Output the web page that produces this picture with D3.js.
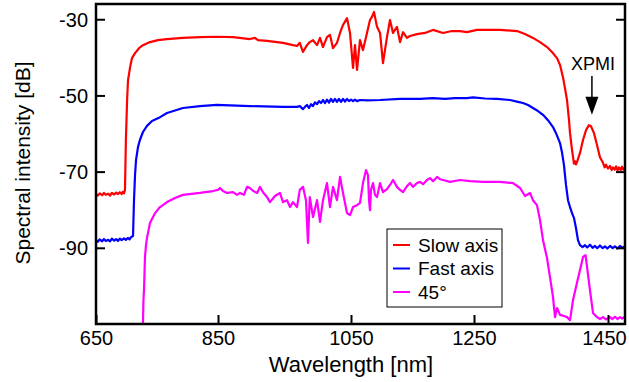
<!DOCTYPE html>
<html>
<head>
<meta charset="utf-8">
<script src="https://cdn.jsdelivr.net/npm/d3@7/dist/d3.min.js"></script>
<style>
  body { margin: 0; background: #fff; }
  svg { font-family: "Liberation Sans", Arial, sans-serif; }
</style>
</head>
<body>
<svg class="main-graphic" width="629" height="382"></svg>
<script>
// ticks
var xTicks = [650, 850, 1050, 1250, 1450];
var yTicks = [-30, -50, -70, -90];

// slow axis (red): [wavelength nm, dB]
var slowAxis = [
  [650,-75.9],[653,-76.3],[656,-75.7],[660,-76.2],[663,-75.6],[666,-76.1],[670,-75.8],[673,-76.3],
  [676,-75.6],[680,-76.0],[683,-75.5],[686,-75.9],[689,-75.4],[692,-75.9],[694,-75.3],[696,-75.7],
  [697.5,-74.8],[699,-61.7],[701,-51.2],[702.5,-46.0],[706,-42.5],[709,-40.2],[714,-38.9],[720.5,-37.6],
  [727,-36.8],[738.5,-36.0],[751.6,-35.5],[766,-35.2],[792.6,-34.9],[820.5,-34.7],[848,-34.6],[872.6,-34.7],
  [898,-35.2],[905.6,-34.9],[910,-35.5],[923.7,-35.7],[947.7,-36.2],[962.8,-36.8],[968.8,-37.0],[973,-36.2],
  [977.8,-38.6],[983.8,-36.8],[988,-36.0],[992.9,-35.5],[998.9,-36.8],[1003.4,-34.9],[1007.9,-37.3],[1013.9,-34.7],
  [1018.4,-34.1],[1022.9,-37.6],[1028.9,-36.2],[1033.5,-33.6],[1038,-31.5],[1044,-29.7],[1048.5,-33.6],[1053.3,-42.8],
  [1056.5,-36.8],[1059.8,-43.3],[1064.6,-35.5],[1069.5,-38.1],[1076,-33.6],[1080.9,-30.2],[1084,-29.4],[1087.4,-28.1],
  [1092.3,-32.0],[1097.2,-33.6],[1102,-41.5],[1108.5,-34.7],[1113.4,-30.2],[1118.3,-33.6],[1124.8,-32.0],[1129.7,-36.0],
  [1134.6,-33.4],[1141,-34.9],[1146,-34.4],[1157.3,-33.9],[1170.3,-33.6],[1183.3,-32.8],[1199.6,-33.6],[1214,-33.1],
  [1227,-33.1],[1238.6,-33.4],[1254.5,-32.8],[1288.8,-32.8],[1314.2,-33.1],[1326,-33.9],[1338,-34.9],[1348.5,-36.0],
  [1359,-37.3],[1366.4,-38.6],[1373.9,-40.2],[1378.4,-42.0],[1382.8,-45.2],[1385.8,-48.1],[1388.8,-51.2],[1391.8,-56.5],
  [1393.3,-59.9],[1396.3,-64.3],[1397.8,-66.2],[1399.2,-67.9],[1400.7,-67.3],[1402.2,-68.1],[1403.7,-67.5],[1408.2,-65.1],
  [1412.7,-61.7],[1417.2,-59.1],[1421.6,-57.8],[1424.6,-58.1],[1429.1,-59.9],[1433.6,-63.0],[1438,-66.2],[1442.5,-67.7],
  [1445,-68.9],[1447,-68.2],[1450,-69.2],[1453,-68.5],[1455.5,-69.6],[1457.5,-68.9],[1460,-69.5],[1462,-68.6],
  [1464.4,-69.7],[1466.4,-68.9],[1469,-69.6],[1470.9,-68.7],[1473,-69.5],[1475.4,-68.9]
];

// fast axis (blue)
var fastAxis = [
  [650,-88.0],[653,-88.4],[656,-87.8],[660,-88.3],[663,-87.7],[666,-88.2],[670,-87.9],[673,-88.3],
  [676,-87.6],[680,-88.1],[683,-87.7],[686,-88.2],[689,-87.6],[692,-88.0],[696,-87.5],[699,-87.9],
  [702.5,-87.4],[705,-87.8],[707.4,-87.2],[710.7,-86.9],[712.3,-77.5],[714,-70.9],[715.6,-67.0],[718.9,-63.5],[722,-61.7],
  [727,-59.6],[733.6,-58.0],[741.8,-56.7],[755,-55.7],[766.4,-54.6],[792.6,-53.3],[820.5,-52.8],[848,-52.5],
  [898,-52.8],[947.7,-53.0],[968.8,-53.0],[973,-52.8],[977.8,-53.6],[980.8,-53.0],[983.8,-52.5],[986.8,-53.3],
  [989.9,-52.3],[992.9,-52.8],[995.8,-51.8],[998.9,-52.3],[1001.9,-51.5],[1004.9,-52.0],[1007.9,-51.2],[1010.9,-52.0],
  [1013.9,-51.1],[1016.9,-51.9],[1019.9,-50.9],[1022.9,-51.7],[1025.9,-50.9],[1028.9,-51.7],[1031.9,-50.9],[1035,-51.7],
  [1038,-50.9],[1041,-51.6],[1044,-50.9],[1047,-51.5],[1050,-51.1],[1053.3,-51.5],[1056.5,-51.1],[1059.8,-51.5],
  [1064.6,-51.2],[1076,-51.3],[1097.2,-51.2],[1129.7,-50.9],[1162.3,-50.9],[1183.3,-50.7],[1202.8,-50.9],[1219,-50.7],
  [1238.6,-50.7],[1248.4,-50.5],[1266.4,-50.8],[1284.3,-50.9],[1303.7,-51.2],[1315.7,-51.7],[1323.1,-52.0],[1330.6,-52.5],
  [1338,-53.3],[1345.5,-54.1],[1353,-55.1],[1360.4,-56.5],[1367.9,-58.3],[1372.4,-59.9],[1375.4,-61.2],[1378.4,-62.5],
  [1381.3,-64.9],[1384.3,-68.3],[1387.3,-73.5],[1390.3,-77.5],[1393.3,-79.3],[1396.3,-80.9],[1399.3,-82.2],[1402.2,-84.8],
  [1405.2,-88.0],[1408.2,-89.3],[1412,-89.8],[1415.7,-89.3],[1419,-89.9],[1423.1,-89.2],[1427,-90.0],[1430.6,-89.5],
  [1434,-90.1],[1438,-89.4],[1442,-90.1],[1445.5,-89.6],[1449,-90.2],[1453,-89.5],[1457,-90.1],[1460.4,-89.6],
  [1464,-90.2],[1467.9,-89.5],[1471,-90.0],[1475.4,-89.6]
];

// 45 degrees (magenta)
var deg45 = [
  [727,-110.0],[727.8,-103.7],[728.7,-101.1],[730.3,-92.4],[732,-89.3],[733.6,-87.4],[738.5,-83.5],[746.7,-80.9],
  [755,-79.3],[766.4,-78.0],[779.5,-76.9],[792.6,-76.1],[820.5,-75.6],[841.8,-75.1],[850,-74.8],[853,-74.3],
  [857.5,-75.1],[863.5,-75.6],[872.6,-75.4],[878.6,-76.1],[883,-75.6],[889,-76.1],[893.7,-74.0],[898,-74.3],
  [903,-75.1],[909,-75.6],[913,-74.0],[917.7,-75.4],[923.7,-76.7],[928.2,-78.0],[935.7,-76.4],[943.2,-75.6],
  [947.7,-78.0],[953.8,-77.5],[958.3,-79.3],[962.8,-78.0],[968.8,-79.3],[973,-74.8],[977.8,-74.0],[982.3,-77.5],
  [985.3,-88.7],[988,-76.7],[992.9,-81.9],[998.9,-77.5],[1003.4,-83.2],[1007.9,-77.5],[1013.9,-73.0],[1018.4,-79.3],
  [1022.9,-74.0],[1028.9,-77.5],[1033.5,-71.4],[1038,-75.6],[1044,-80.9],[1048.5,-81.4],[1053.3,-79.3],[1059.8,-78.8],
  [1064.6,-78.2],[1069.5,-73.0],[1074.4,-69.6],[1077.6,-70.9],[1079.3,-77.5],[1080.9,-80.1],[1082.5,-74.8],[1085.8,-73.0],
  [1089,-76.1],[1092.3,-76.7],[1097.2,-73.0],[1102,-75.4],[1108.5,-74.6],[1113.4,-73.5],[1118.3,-72.2],[1124.8,-74.0],
  [1129.7,-74.8],[1134.6,-75.4],[1141,-73.8],[1146,-73.0],[1150.8,-74.0],[1157.3,-73.0],[1162.3,-72.7],[1167.1,-73.3],
  [1173.6,-72.2],[1178.5,-71.7],[1183.3,-72.5],[1189.9,-71.4],[1194.7,-72.0],[1199.6,-72.2],[1211,-72.7],[1227.2,-72.2],
  [1243.5,-72.5],[1263.4,-72.7],[1288.8,-72.7],[1308.2,-73.0],[1318.7,-74.3],[1326.1,-76.4],[1333.6,-75.6],[1338,-77.5],
  [1344,-78.8],[1348.5,-82.7],[1353,-88.0],[1359,-92.7],[1363.4,-97.7],[1367.9,-102.9],[1370.9,-108.2],[1373.9,-105.8],
  [1378.4,-107.6],[1384.3,-107.9],[1388.8,-108.2],[1393.3,-109.0],[1397.8,-103.7],[1403.7,-99.2],[1408.2,-95.8],[1412.7,-92.4],
  [1416.5,-91.9],[1418.7,-95.0],[1423.1,-101.1],[1427.6,-107.1],[1433.6,-108.2],[1438,-108.7],[1442.5,-108.2],[1447,-108.8],
  [1453,-108.2],[1456,-108.7],[1460.4,-108.1],[1464,-108.7],[1467.9,-108.2],[1471,-108.6],[1475.4,-108.1]
];

var seriesNames = ["Slow axis", "Fast axis", "45°"];
var seriesColors = ["#ff0000", "#0000ff", "#ff00ff"];
var seriesData = [slowAxis, fastAxis, deg45];

// XPMI annotation: wavelength, text dB, arrow start dB, arrow tip dB
var xpmi = {label: "XPMI", nm: 1426, textDb: -43.3, fromDb: -44.9, tipDb: -55.1};

(function() {
  var svg = d3.select(".main-graphic");

  var pLeft = 96, pRight = 625, pTop = 4, pBottom = 324;

  // tick spacing in the original is slightly uneven, so piecewise scale
  var x = d3.scaleLinear()
      .domain(xTicks)
      .range([96, 218, 351, 474, 608]);
  var y = d3.scaleLinear()
      .domain([-110, -26])
      .range([pBottom, pTop]);

  svg.append("defs").append("clipPath")
      .attr("id", "plot-clip")
    .append("rect")
      .attr("x", pLeft)
      .attr("y", pTop)
      .attr("width", pRight - pLeft)
      .attr("height", pBottom - pTop);

  var line = d3.line()
      .x(function(d) { return x(d[0]); })
      .y(function(d) { return y(d[1]); });

  var plot = svg.append("g").attr("clip-path", "url(#plot-clip)");

  plot.selectAll(".series")
      .data(seriesData)
    .enter().append("path")
      .attr("class", "series")
      .attr("d", line)
      .attr("fill", "none")
      .attr("stroke", function(d, i) { return seriesColors[i]; })
      .attr("stroke-width", 2.2)
      .attr("stroke-linejoin", "round");

  var plain = function(d) { return String(d); };

  // axes
  var xAxis = svg.append("g")
      .attr("transform", "translate(0," + pBottom + ")")
      .call(d3.axisBottom(x).tickValues(xTicks).tickSize(-9).tickPadding(7).tickFormat(plain));

  var yAxis = svg.append("g")
      .attr("transform", "translate(" + pLeft + ",0)")
      .call(d3.axisLeft(y).tickValues(yTicks).tickSize(-9).tickPadding(8).tickFormat(plain));

  var yAxisR = svg.append("g")
      .attr("transform", "translate(" + pRight + ",0)")
      .call(d3.axisRight(y).tickValues(yTicks).tickSize(-9).tickFormat(""));

  [xAxis, yAxis, yAxisR].forEach(function(a) {
    a.select(".domain").remove();
    a.selectAll(".tick line").attr("stroke", "#000").attr("stroke-width", 2);
    a.selectAll(".tick text")
      .attr("fill", "#000")
      .style("font-size", "20px")
      .style("font-family", "'Liberation Sans', Arial, sans-serif");
  });
  yAxis.selectAll(".tick text").attr("dy", "0.34em");
  // last label sits against the right edge
  xAxis.selectAll(".tick text").filter(function(d) { return d === 1450; }).attr("dx", -4);

  svg.append("rect")
      .attr("x", pLeft)
      .attr("y", pTop)
      .attr("width", pRight - pLeft)
      .attr("height", pBottom - pTop)
      .attr("fill", "none")
      .attr("stroke", "#000")
      .attr("stroke-width", 2.5);

  // titles
  svg.append("text")
      .attr("x", 351)
      .attr("y", 372)
      .attr("text-anchor", "middle")
      .style("font-size", "22px")
      .text("Wavelength [nm]");

  svg.append("text")
      .attr("transform", "translate(30,163) rotate(-90)")
      .attr("text-anchor", "middle")
      .style("font-size", "21px")
      .text("Spectral intensity [dB]");

  // XPMI annotation
  var tipX = x(xpmi.nm), tipY = y(xpmi.tipDb);

  svg.append("text")
      .attr("x", tipX + 1)
      .attr("y", y(xpmi.textDb))
      .attr("text-anchor", "middle")
      .style("font-size", "18px")
      .text(xpmi.label);

  svg.append("line")
      .attr("x1", tipX)
      .attr("x2", tipX)
      .attr("y1", y(xpmi.fromDb))
      .attr("y2", tipY - 12)
      .attr("stroke", "#000")
      .attr("stroke-width", 1.5);

  svg.append("path")
      .attr("d", "M" + tipX + "," + tipY + "L" + (tipX - 6.5) + "," + (tipY - 18) + "L" + (tipX + 6.5) + "," + (tipY - 18) + "Z")
      .attr("fill", "#000");

  // legend
  var legend = svg.append("g").attr("transform", "translate(387,229)");

  legend.append("rect")
      .attr("width", 115)
      .attr("height", 78)
      .attr("fill", "#fff")
      .attr("stroke", "#000")
      .attr("stroke-width", 1);

  var items = legend.selectAll(".item")
      .data(seriesNames)
    .enter().append("g")
      .attr("class", "item")
      .attr("transform", function(d, i) { return "translate(0," + (16 + i * 23.5) + ")"; });

  items.append("line")
      .attr("x1", 6)
      .attr("x2", 23)
      .attr("stroke", function(d, i) { return seriesColors[i]; })
      .attr("stroke-width", 2);

  items.append("text")
      .attr("x", 31)
      .attr("dy", "0.35em")
      .style("font-size", "19px")
      .text(function(d) { return d; });
})();
</script>
</body>
</html>
